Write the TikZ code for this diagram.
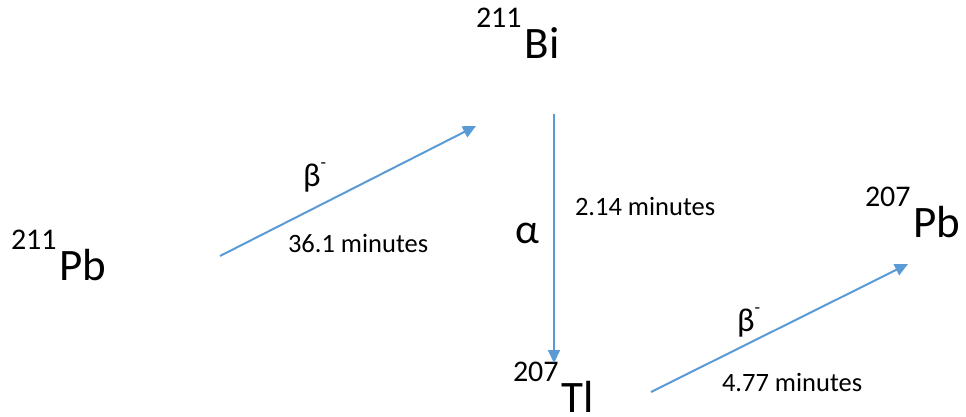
\documentclass[tikz,border=0pt]{standalone}
\usepackage{fontspec}
\setmainfont{Carlito}
\usetikzlibrary{arrows.meta}
\definecolor{arrowblue}{HTML}{5B9BD5}
\newcommand{\elem}[2]{\raisebox{31pt}{\fontsize{30}{30}\selectfont #1}\hspace{3pt}{\fontsize{45}{45}\selectfont #2}}
\newcommand{\betaminus}{{\fontsize{33}{33}\selectfont β}\raisebox{18pt}{\fontsize{18}{18}\selectfont -}}
\tikzset{
  elemnode/.style={anchor=base west, inner sep=0pt, outer sep=0pt},
  lbl/.style={anchor=base west, inner sep=0pt, outer sep=0pt, font=\fontsize{26.5}{26.5}\selectfont},
  decay/.style={draw=arrowblue, line width=2pt, -{Triangle[length=13pt,width=12pt]}}
}
\begin{document}
\begin{tikzpicture}[x=1pt,y=-1pt]
\useasboundingbox (0,0) rectangle (966,417);
% elements
\node[elemnode] (pb211) at (11,280) {\elem{211}{Pb}};
\node[elemnode] (bi211) at (476,59) {\elem{211}{Bi}};
\node[elemnode] (pb207) at (865,237) {\elem{207}{Pb}};
\node[elemnode] (tl207) at (513,412) {\elem{207}{Tl}};
% arrow ends
\coordinate (a1s) at (220,256);
\coordinate (a1e) at (476,126);
\coordinate (a2s) at (554,114);
\coordinate (a2e) at (554,363);
\coordinate (a3s) at (651,392);
\coordinate (a3e) at (908,264);
\draw[decay] (a1s) -- (a1e);
\draw[decay] (a2s) -- (a2e);
\draw[decay] (a3s) -- (a3e);
% labels
\node[elemnode] (beta1) at (303,186) {\betaminus};
\node[lbl] (t1) at (288,252) {36.1 minutes};
\node[elemnode, font=\fontsize{42}{42}\selectfont] (alpha) at (515,243) {α};
\node[lbl] (t2) at (575,215) {2.14 minutes};
\node[elemnode] (beta2) at (737,331) {\betaminus};
\node[lbl] (t3) at (722,391) {4.77 minutes};
\end{tikzpicture}
\end{document}
